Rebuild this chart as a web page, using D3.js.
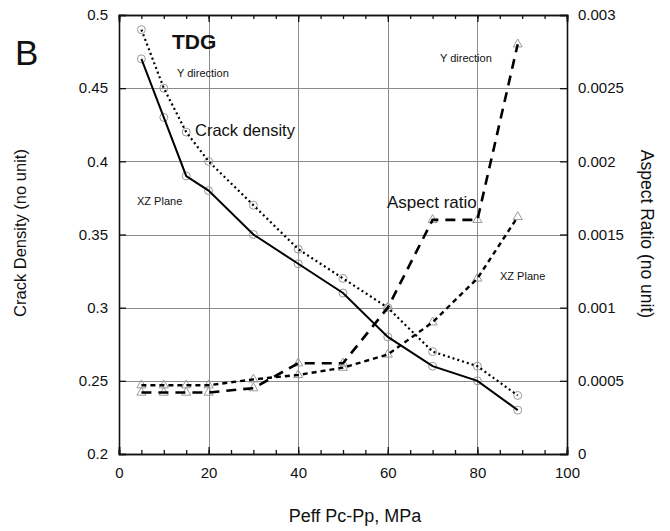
<!DOCTYPE html>
<html>
<head>
<meta charset="utf-8">
<script src="https://cdn.jsdelivr.net/npm/d3@7/dist/d3.min.js"></script>
<style>
  html, body { margin: 0; padding: 0; background: #fff; }
  svg { display: block; }
  text { font-family: "Liberation Sans", Arial, Helvetica, sans-serif; fill: #111; }
</style>
</head>
<body>
<svg id="chart" width="670" height="531"></svg>
<script>
// Effective pressure (MPa)
const pressure = [5, 10, 15, 20, 30, 40, 50, 60, 70, 80, 89];

// Crack density (left axis)
const crackDensityY  = [0.49, 0.45, 0.42, 0.40, 0.37, 0.34, 0.32, 0.30, 0.27, 0.26, 0.24];
const crackDensityXZ = [0.47, 0.43, 0.39, 0.38, 0.35, 0.33, 0.31, 0.28, 0.26, 0.25, 0.23];

// Aspect ratio (right axis)
const aspectY  = [0.00042, 0.00042, 0.00042, 0.00042, 0.00045, 0.00062, 0.00062, 0.0010, 0.0016, 0.0016, 0.0028];
const aspectXZ = [0.00047, 0.00047, 0.00047, 0.00047, 0.00051, 0.00054, 0.00059, 0.00068, 0.00090, 0.0012, 0.00162];

// Axis ticks
const xTicks = [0, 20, 40, 60, 80, 100];
const xMinorTicks = d3.range(0, 101, 5);
const leftTicks = [0.2, 0.25, 0.3, 0.35, 0.4, 0.45, 0.5];
const leftTickLabels = ["0.2", "0.25", "0.3", "0.35", "0.4", "0.45", "0.5"];
const rightTicks = [0, 0.0005, 0.001, 0.0015, 0.002, 0.0025, 0.003];
const rightTickLabels = ["0", "0.0005", "0.001", "0.0015", "0.002", "0.0025", "0.003"];

const svg = d3.select("#chart");
const L = 119, R = 567, T = 15, B = 454;

const x = d3.scaleLinear().domain([0, 100]).range([L, R]);
const yL = d3.scaleLinear().domain([0.2, 0.5]).range([B, T]);
const yR = d3.scaleLinear().domain([0, 0.003]).range([B, T]);

// Grid
const grid = svg.append("g").attr("stroke", "#8c8c8c").attr("stroke-width", 1);
grid.selectAll("line.vx").data(xTicks.slice(1, -1)).join("line")
  .attr("x1", d => Math.round(x(d)) + 0.5).attr("x2", d => Math.round(x(d)) + 0.5)
  .attr("y1", T).attr("y2", B);
grid.selectAll("line.hy").data(leftTicks.slice(1, -1)).join("line")
  .attr("y1", d => Math.round(yL(d)) + 0.5).attr("y2", d => Math.round(yL(d)) + 0.5)
  .attr("x1", L).attr("x2", R);

// Axes (ticks drawn inward)
const fmt = (labels, ticks) => d => labels[ticks.indexOf(d)];
const axBottom = svg.append("g").attr("transform", `translate(0,${B})`)
  .call(d3.axisBottom(x).tickValues(xMinorTicks).tickSize(-4).tickFormat(""));
const axBottomMaj = svg.append("g").attr("transform", `translate(0,${B})`)
  .call(d3.axisBottom(x).tickValues(xTicks).tickSize(-7).tickPadding(13).tickFormat(d3.format("d")));
const axTop = svg.append("g").attr("transform", `translate(0,${T})`)
  .call(d3.axisTop(x).tickValues(xMinorTicks).tickSize(-4).tickFormat(""));
const axTopMaj = svg.append("g").attr("transform", `translate(0,${T})`)
  .call(d3.axisTop(x).tickValues(xTicks).tickSize(-7).tickFormat(""));
const axLeft = svg.append("g").attr("transform", `translate(${L},0)`)
  .call(d3.axisLeft(yL).tickValues(leftTicks).tickSize(-7).tickPadding(11).tickFormat(fmt(leftTickLabels, leftTicks)));
const axRight = svg.append("g").attr("transform", `translate(${R},0)`)
  .call(d3.axisRight(yR).tickValues(rightTicks).tickSize(-7).tickPadding(11).tickFormat(fmt(rightTickLabels, rightTicks)));

[axBottom, axBottomMaj, axTop, axTopMaj, axLeft, axRight].forEach(g => {
  g.select(".domain").attr("stroke", "#111").attr("stroke-width", 1.6);
  g.selectAll(".tick line").attr("stroke", "#111").attr("stroke-width", 1.3);
  g.selectAll(".tick text").attr("font-size", 15)
    .attr("font-family", "'Liberation Sans', Arial, sans-serif").attr("fill", "#111");
});

// Markers
const markers = svg.append("g").attr("fill", "none").attr("stroke", "#9a9a9a").attr("stroke-width", 1);
[crackDensityY, crackDensityXZ].forEach(series => {
  markers.append("g").selectAll("circle").data(series).join("circle")
    .attr("cx", (d, i) => x(pressure[i])).attr("cy", d => yL(d)).attr("r", 4);
});
const tri = d3.symbol().type(d3.symbolTriangle).size(36);
[aspectY, aspectXZ].forEach(series => {
  markers.append("g").selectAll("path").data(series).join("path")
    .attr("d", tri)
    .attr("transform", (d, i) => `translate(${x(pressure[i])},${yR(d)})`);
});

// Lines
const lineL = d3.line().x((d, i) => x(pressure[i])).y(d => yL(d));
const lineR = d3.line().x((d, i) => x(pressure[i])).y(d => yR(d));
const lines = svg.append("g").attr("fill", "none").attr("stroke", "#000");
lines.append("path").datum(crackDensityY).attr("d", lineL)
  .attr("stroke-width", 2.2).attr("stroke-dasharray", "2,3");
lines.append("path").datum(crackDensityXZ).attr("d", lineL)
  .attr("stroke-width", 2);
lines.append("path").datum(aspectY).attr("d", lineR)
  .attr("stroke-width", 2.6).attr("stroke-dasharray", "10,7");
lines.append("path").datum(aspectXZ).attr("d", lineR)
  .attr("stroke-width", 2.4).attr("stroke-dasharray", "5,4");

// Panel letter and annotations
svg.append("text").attr("x", 15).attr("y", 65).attr("font-size", 35)
  .attr("font-family", "'Open Sans', 'Noto Sans', sans-serif").text("B");
svg.append("text").attr("x", 172).attr("y", 49).attr("font-size", 21).attr("font-weight", "bold").text("TDG");
svg.append("text").attr("x", 177).attr("y", 77).attr("font-size", 11).text("Y direction");
svg.append("text").attr("x", 137).attr("y", 205).attr("font-size", 11).text("XZ Plane");
svg.append("text").attr("x", 440).attr("y", 62).attr("font-size", 11).text("Y direction");
svg.append("text").attr("x", 500).attr("y", 280).attr("font-size", 11).text("XZ Plane");
svg.append("text").attr("x", 195).attr("y", 136).attr("font-size", 16.5)
  .attr("font-family", "Lato, 'Noto Sans', sans-serif").text("Crack density");
svg.append("text").attr("x", 387).attr("y", 208).attr("font-size", 17)
  .attr("font-family", "Lato, 'Noto Sans', sans-serif").text("Aspect ratio");

// Axis titles
svg.append("text").attr("transform", "translate(26,233) rotate(-90)")
  .attr("text-anchor", "middle").attr("font-size", 16.5).text("Crack Density (no unit)");
svg.append("text").attr("transform", "translate(641,234) rotate(90)")
  .attr("text-anchor", "middle").attr("font-size", 17.5)
  .attr("font-family", "Lato, 'Noto Sans', sans-serif").text("Aspect Ratio (no unit)");
svg.append("text").attr("x", 355).attr("y", 522)
  .attr("text-anchor", "middle").attr("font-size", 18).text("Peff Pc-Pp, MPa");
</script>
</body>
</html>
